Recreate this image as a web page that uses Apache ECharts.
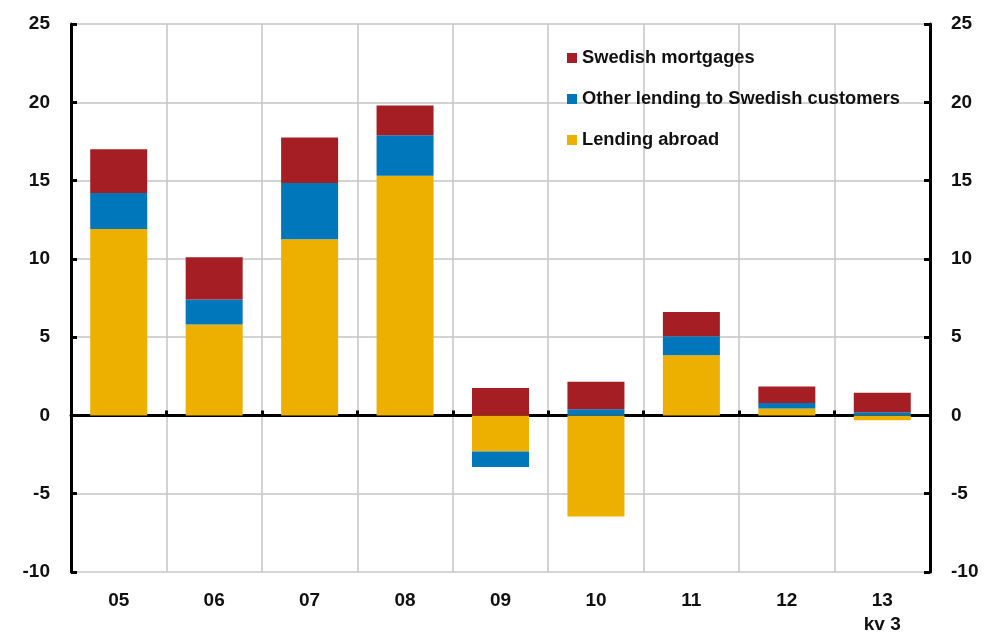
<!DOCTYPE html>
<html>
<head>
    <meta charset="utf-8">
    <title>Lending growth</title>
    <script src="https://cdn.jsdelivr.net/npm/echarts@6/dist/echarts.min.js"></script>
</head>
<body style="margin:0">
<div id="main" style="width: 986px;height:637px;"></div>
<script type="text/javascript">
    // categories (years) and the three stacked series
    var years = ['05', '06', '07', '08', '09', '10', '11', '12', '13\nkv 3'];
    var lendingAbroad = [11.9, 5.8, 11.25, 15.3, -2.3, -6.45, 3.85, 0.45, -0.3];
    var otherLending = [2.3, 1.6, 3.6, 2.6, -1.0, 0.4, 1.2, 0.35, 0.2];
    var mortgages = [2.8, 2.7, 2.9, 1.9, 1.75, 1.75, 1.55, 1.05, 1.25];
    var yTicks = [-10, 25, 5]; // min, max, interval

    var myChart = echarts.init(document.getElementById('main'));
    var font = 'Liberation Sans, Arial, sans-serif';

    function yAxis(pos, showSplit) {
        return {
            type: 'value',
            position: pos,
            min: yTicks[0],
            max: yTicks[1],
            interval: yTicks[2],
            axisLine: {show: true, lineStyle: {color: '#000', width: 3}},
            axisTick: {show: true, inside: true, length: 6, lineStyle: {color: '#000', width: 3}},
            axisLabel: {color: '#111', fontSize: 19, fontWeight: 'bold', fontFamily: font, margin: 21},
            splitLine: {show: showSplit, lineStyle: {color: '#c4c4c4', width: 1.5}}
        };
    }

    var option = {
        animation: false,
        grid: {left: 71, right: 56, top: 24, bottom: 63, containLabel: false},
        legend: {
            orient: 'vertical',
            left: 562,
            top: 43,
            itemWidth: 10,
            itemHeight: 10,
            itemGap: 21,
            icon: 'rect',
            data: ['Swedish mortgages', 'Other lending to Swedish customers', 'Lending abroad'],
            textStyle: {color: '#111', fontSize: 18.3, fontWeight: 'bold', fontFamily: font, lineHeight: 20}
        },
        xAxis: [{
            type: 'category',
            data: years,
            position: 'bottom',
            axisLine: {show: false, onZero: false},
            axisTick: {show: false},
            axisLabel: {color: '#111', fontSize: 19, fontWeight: 'bold', fontFamily: font, margin: 17, lineHeight: 24},
            splitLine: {show: true, lineStyle: {color: '#c4c4c4', width: 1.5}}
        }, {
            type: 'category',
            data: years,
            position: 'bottom',
            axisLine: {show: true, onZero: true, lineStyle: {color: '#000', width: 3}},
            axisTick: {show: true, inside: true, length: 5, lineStyle: {color: '#000', width: 3}},
            axisLabel: {show: false},
            splitLine: {show: false}
        }],
        yAxis: [yAxis('left', true), yAxis('right', false)],
        series: [{
            name: 'Lending abroad',
            type: 'bar',
            stack: 'total',
            barWidth: 57,
            itemStyle: {color: '#EEB000'},
            data: lendingAbroad
        }, {
            name: 'Other lending to Swedish customers',
            type: 'bar',
            stack: 'total',
            barWidth: 57,
            itemStyle: {color: '#0077BB'},
            data: otherLending
        }, {
            name: 'Swedish mortgages',
            type: 'bar',
            stack: 'total',
            barWidth: 57,
            itemStyle: {color: '#A51E24'},
            data: mortgages
        }]
    };
    myChart.setOption(option);
</script>
</body>
</html>
